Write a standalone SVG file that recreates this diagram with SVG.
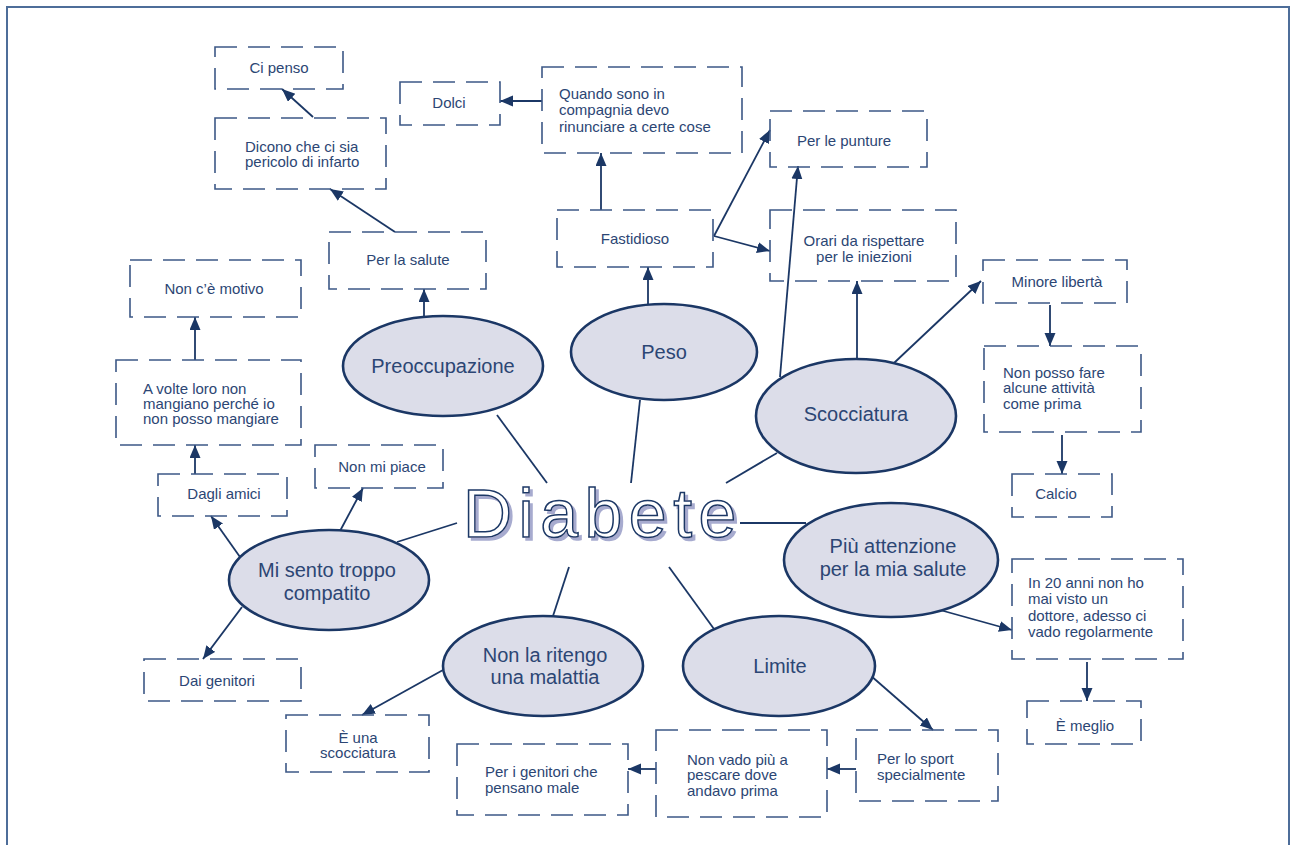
<svg xmlns="http://www.w3.org/2000/svg" width="1291" height="845" viewBox="0 0 1291 845">
<defs>
<marker id="ah" markerUnits="userSpaceOnUse" markerWidth="14" markerHeight="12" refX="13" refY="5.5" orient="auto">
<path d="M0,0 L13,5.5 L0,11 Z" fill="#1b3765"/>
</marker>
<filter id="shadow" x="-5%" y="-10%" width="115%" height="130%">
<feFlood flood-color="#a7abcf" result="col"/>
<feComposite in="col" in2="SourceAlpha" operator="in" result="sh"/>
<feOffset in="sh" dx="3" dy="3" result="off"/>
<feMerge><feMergeNode in="off"/><feMergeNode in="SourceGraphic"/></feMerge>
</filter>
<style>
.frame{fill:none;stroke:#4d6d99;stroke-width:2}
.box{fill:none;stroke:#3c5886;stroke-width:1.6;stroke-dasharray:22 11}
.ell{fill:#dcdde9;stroke:#1b3765;stroke-width:2.6}
.t{font-family:"Liberation Sans",Arial,sans-serif;font-size:15px;fill:#2c4674}
.c{text-anchor:middle}
.et{font-family:"Liberation Sans",Arial,sans-serif;font-size:20px;fill:#2c4674;text-anchor:middle}
.arr{fill:none;stroke:#1b3765;stroke-width:1.8;marker-end:url(#ah)}
.ln{fill:none;stroke:#1b3765;stroke-width:1.8}
.big{font-family:"Liberation Sans",Arial,sans-serif;font-size:68px;letter-spacing:6.5px;fill:#fff;stroke:#1b3765;stroke-width:1.5}
</style>
</defs>
<rect width="1291" height="845" fill="#fff"/>
<rect class="frame" x="7" y="7" width="1282" height="860"/>

<g id="connectors">
<line class="ln" x1="497" y1="415" x2="547" y2="483"/>
<line class="ln" x1="640" y1="400" x2="631" y2="483"/>
<line class="ln" x1="777" y1="453" x2="726" y2="483"/>
<line class="ln" x1="740" y1="523" x2="806" y2="523"/>
<line class="ln" x1="669" y1="567" x2="714" y2="629"/>
<line class="ln" x1="569" y1="567" x2="553" y2="616"/>
<line class="ln" x1="457" y1="523" x2="397" y2="542"/>
<line class="arr" x1="542" y1="101" x2="500" y2="101"/>
<line class="arr" x1="601" y1="210" x2="601" y2="153"/>
<line class="arr" x1="648" y1="304" x2="648" y2="267"/>
<line class="arr" x1="714" y1="236" x2="770" y2="130"/>
<line class="arr" x1="714" y1="236" x2="770" y2="251"/>
<line class="arr" x1="780" y1="377" x2="798" y2="166"/>
<line class="arr" x1="857" y1="359" x2="857" y2="281"/>
<line class="arr" x1="894" y1="363" x2="981" y2="281"/>
<line class="arr" x1="1050" y1="305" x2="1050" y2="346"/>
<line class="arr" x1="1062" y1="435" x2="1062" y2="474"/>
<line class="arr" x1="424" y1="318" x2="424" y2="289"/>
<line class="arr" x1="395" y1="232" x2="330" y2="189"/>
<line class="arr" x1="313" y1="117" x2="282" y2="89"/>
<line class="arr" x1="195" y1="360" x2="195" y2="317"/>
<line class="arr" x1="195" y1="474" x2="195" y2="445"/>
<line class="arr" x1="240" y1="557" x2="211" y2="516"/>
<line class="arr" x1="340" y1="531" x2="363" y2="488"/>
<line class="arr" x1="242" y1="607" x2="203" y2="659"/>
<line class="arr" x1="443" y1="670" x2="362" y2="715"/>
<line class="arr" x1="870" y1="675" x2="933" y2="730"/>
<line class="arr" x1="856" y1="769" x2="827" y2="769"/>
<line class="arr" x1="656" y1="769" x2="628" y2="769"/>
<line class="arr" x1="940" y1="610" x2="1012" y2="630"/>
<line class="arr" x1="1087" y1="662" x2="1087" y2="701"/>
</g>

<g id="diabete">
<text class="big" x="463" y="537" filter="url(#shadow)">Diabete</text>
</g>

<g id="e-preoccupazione"><ellipse class="ell" cx="443" cy="366" rx="100" ry="50"/><text class="et" x="443" y="373">Preoccupazione</text></g>
<g id="e-peso"><ellipse class="ell" cx="664" cy="352" rx="93" ry="48"/><text class="et" x="664" y="359">Peso</text></g>
<g id="e-scocciatura"><ellipse class="ell" cx="856" cy="416" rx="100" ry="57"/><text class="et" x="856" y="421">Scocciatura</text></g>
<g id="e-attenzione"><ellipse class="ell" cx="891" cy="560" rx="107" ry="57"/><text class="et" x="893" y="553">Più attenzione</text><text class="et" x="893" y="576">per la mia salute</text></g>
<g id="e-limite"><ellipse class="ell" cx="779" cy="666" rx="96" ry="50"/><text class="et" x="780" y="673">Limite</text></g>
<g id="e-malattia"><ellipse class="ell" cx="543" cy="666" rx="100" ry="50"/><text class="et" x="545" y="662">Non la ritengo</text><text class="et" x="545" y="684">una malattia</text></g>
<g id="e-compatito"><ellipse class="ell" cx="329" cy="580" rx="100" ry="50"/><text class="et" x="327" y="577">Mi sento troppo</text><text class="et" x="327" y="600">compatito</text></g>

<g id="b-cipenso"><rect class="box" x="215" y="47" width="128" height="42"/><text class="t c" x="279" y="73">Ci penso</text></g>
<g id="b-dicono"><rect class="box" x="215" y="118" width="171" height="71"/><text class="t" x="245" y="152">Dicono che ci sia</text><text class="t" x="245" y="167">pericolo di infarto</text></g>
<g id="b-dolci"><rect class="box" x="400" y="82" width="100" height="43"/><text class="t c" x="449" y="108">Dolci</text></g>
<g id="b-quando"><rect class="box" x="542" y="67" width="200" height="86"/><text class="t" x="559" y="99">Quando sono in</text><text class="t" x="559" y="115">compagnia devo</text><text class="t" x="559" y="132">rinunciare a certe cose</text></g>
<g id="b-fastidioso"><rect class="box" x="557" y="210" width="156" height="57"/><text class="t c" x="635" y="244">Fastidioso</text></g>
<g id="b-punture"><rect class="box" x="770" y="111" width="157" height="56"/><text class="t c" x="844" y="146">Per le punture</text></g>
<g id="b-orari"><rect class="box" x="770" y="210" width="186" height="71"/><text class="t c" x="864" y="246">Orari da rispettare</text><text class="t c" x="864" y="262">per le iniezioni</text></g>
<g id="b-salute"><rect class="box" x="329" y="232" width="157" height="57"/><text class="t c" x="408" y="265">Per la salute</text></g>
<g id="b-motivo"><rect class="box" x="130" y="260" width="171" height="57"/><text class="t c" x="214" y="294">Non c’è motivo</text></g>
<g id="b-avolte"><rect class="box" x="116" y="360" width="185" height="85"/><text class="t" x="143" y="394">A volte loro non</text><text class="t" x="143" y="409">mangiano perché io</text><text class="t" x="143" y="424">non posso mangiare</text></g>
<g id="b-amici"><rect class="box" x="158" y="474" width="129" height="42"/><text class="t c" x="224" y="499">Dagli amici</text></g>
<g id="b-piace"><rect class="box" x="315" y="445" width="128" height="43"/><text class="t c" x="382" y="472">Non mi piace</text></g>
<g id="b-genitori"><rect class="box" x="144" y="659" width="157" height="42"/><text class="t c" x="217" y="686">Dai genitori</text></g>
<g id="b-una"><rect class="box" x="286" y="715" width="143" height="57"/><text class="t c" x="358" y="743">È una</text><text class="t c" x="358" y="758">scocciatura</text></g>
<g id="b-pensano"><rect class="box" x="457" y="744" width="171" height="71"/><text class="t" x="485" y="777">Per i genitori che</text><text class="t" x="485" y="793">pensano male</text></g>
<g id="b-pescare"><rect class="box" x="656" y="730" width="171" height="87"/><text class="t" x="687" y="765">Non vado più a</text><text class="t" x="687" y="780">pescare dove</text><text class="t" x="687" y="796">andavo prima</text></g>
<g id="b-sport"><rect class="box" x="856" y="730" width="142" height="71"/><text class="t" x="877" y="764">Per lo sport</text><text class="t" x="877" y="780">specialmente</text></g>
<g id="b-20anni"><rect class="box" x="1012" y="559" width="171" height="100"/><text class="t" x="1028" y="588">In 20 anni non ho</text><text class="t" x="1028" y="604">mai visto un</text><text class="t" x="1028" y="621">dottore, adesso ci</text><text class="t" x="1028" y="637">vado regolarmente</text></g>
<g id="b-meglio"><rect class="box" x="1027" y="701" width="114" height="43"/><text class="t c" x="1085" y="731">È meglio</text></g>
<g id="b-liberta"><rect class="box" x="983" y="260" width="144" height="43"/><text class="t c" x="1057" y="287">Minore libertà</text></g>
<g id="b-attivita"><rect class="box" x="984" y="346" width="157" height="86"/><text class="t" x="1003" y="378">Non posso fare</text><text class="t" x="1003" y="393">alcune attività</text><text class="t" x="1003" y="409">come prima</text></g>
<g id="b-calcio"><rect class="box" x="1012" y="474" width="100" height="43"/><text class="t c" x="1056" y="499">Calcio</text></g>
</svg>
